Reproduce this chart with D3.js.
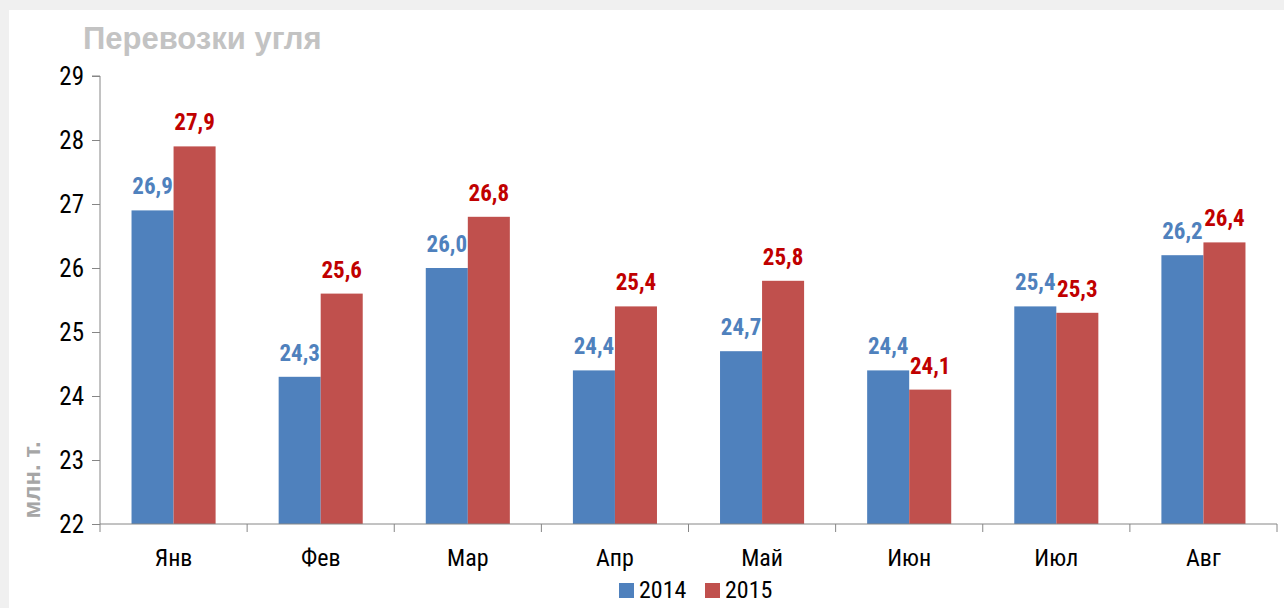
<!DOCTYPE html>
<html>
<head>
<meta charset="utf-8">
<script src="https://cdn.jsdelivr.net/npm/d3@7"></script>
<style>
  body { margin: 0; background: #f0f0f0; }
  svg { display: block; }
  .narrow { font-family: "Liberation Sans Narrow", "Arial Narrow", "Roboto Condensed", "Liberation Sans", sans-serif; }
</style>
</head>
<body>
<div id="chart"></div>
<script>
var months = ["Янв", "Фев", "Мар", "Апр", "Май", "Июн", "Июл", "Авг"];
var values2014 = [26.9, 24.3, 26.0, 24.4, 24.7, 24.4, 25.4, 26.2];
var values2015 = [27.9, 25.6, 26.8, 25.4, 25.8, 24.1, 25.3, 26.4];
var seriesNames = ["2014", "2015"];
var yTicks = [22, 23, 24, 25, 26, 27, 28, 29];

var width = 1284, height = 608;
var margin = {left: 100, right: 7, top: 76, bottom: 84};
var barColors = ["#4f81bd", "#c0504d"];
var labelColors = ["#4f81bd", "#c00000"];

var svg = d3.select("#chart").append("svg")
  .attr("width", width).attr("height", height);

// white panel
svg.append("rect").attr("x", 9).attr("y", 10)
  .attr("width", width - 9).attr("height", height - 10).attr("fill", "#fff");

var x = d3.scaleBand().domain(months)
  .range([margin.left, width - margin.right]);
var xs = d3.scaleBand().domain(seriesNames)
  .range([0, x.bandwidth()]).paddingInner(0).paddingOuter(0.75);
var y = d3.scaleLinear().domain([22, 29])
  .range([height - margin.bottom, margin.top]);

svg.append("text").attr("x", 83).attr("y", 49)
  .attr("font-family", "Liberation Sans, Arial, sans-serif")
  .attr("font-weight", "bold").attr("font-size", 31)
  .attr("fill", "#c3c3c3").text("Перевозки угля");

var series = [values2014, values2015];
var g = svg.append("g");
series.forEach(function (vals, s) {
  g.selectAll(".bar" + s).data(vals).enter().append("rect")
    .attr("x", function (d, i) { return x(months[i]) + xs(seriesNames[s]); })
    .attr("y", function (d) { return y(d); })
    .attr("width", xs.bandwidth())
    .attr("height", function (d) { return y(22) - y(d); })
    .attr("fill", barColors[s]);
  g.selectAll(".lbl" + s).data(vals).enter().append("text")
    .attr("class", "narrow")
    .attr("x", function (d, i) { return x(months[i]) + xs(seriesNames[s]) + xs.bandwidth() / 2; })
    .attr("y", function (d) { return y(d) - 16; })
    .attr("text-anchor", "middle")
    .attr("font-weight", "bold").attr("font-size", 23)
    .attr("fill", labelColors[s])
    .text(function (d) { return d.toFixed(1).replace(".", ","); });
});

// y axis
var yAxis = svg.append("g").attr("transform", "translate(" + margin.left + ",0)")
  .call(d3.axisLeft(y).tickValues(yTicks).tickSize(8).tickPadding(8).tickFormat(d3.format("d")));
yAxis.select(".domain").attr("stroke", "#868686").attr("d", "M-8," + y(29) + "H0V" + y(22));
yAxis.selectAll(".tick line").attr("stroke", "#868686");
yAxis.selectAll(".tick text").attr("class", "narrow").attr("font-size", 25).attr("fill", "#000");

// x axis
var xAxis = svg.append("g").attr("transform", "translate(0," + y(22) + ")");
xAxis.append("line").attr("x1", margin.left).attr("x2", width - margin.right)
  .attr("stroke", "#868686");
xAxis.selectAll(".xt").data(months.concat(["end"])).enter().append("line")
  .attr("x1", function (d, i) { return margin.left + i * x.step(); })
  .attr("x2", function (d, i) { return margin.left + i * x.step(); })
  .attr("y1", 0).attr("y2", 8).attr("stroke", "#868686");
xAxis.selectAll(".xl").data(months).enter().append("text")
  .attr("class", "narrow")
  .attr("x", function (d) { return x(d) + x.bandwidth() / 2; })
  .attr("y", 42).attr("text-anchor", "middle")
  .attr("font-size", 24).attr("fill", "#000").text(function (d) { return d; });

// y title
svg.append("text")
  .attr("transform", "translate(40,480) rotate(-90)")
  .attr("text-anchor", "middle")
  .attr("font-family", "Liberation Sans, Arial, sans-serif")
  .attr("font-weight", "bold").attr("font-size", 24)
  .attr("fill", "#a6a6a6").text("млн. т.");

// legend
var legend = svg.append("g").attr("transform", "translate(619,583)");
var lx = [0, 86];
seriesNames.forEach(function (n, i) {
  legend.append("rect").attr("x", lx[i]).attr("y", 0).attr("width", 15).attr("height", 15)
    .attr("fill", barColors[i]);
  legend.append("text").attr("class", "narrow")
    .attr("x", lx[i] + 20).attr("y", 15)
    .attr("font-size", 24).attr("fill", "#000").text(n);
});
</script>
</body>
</html>
